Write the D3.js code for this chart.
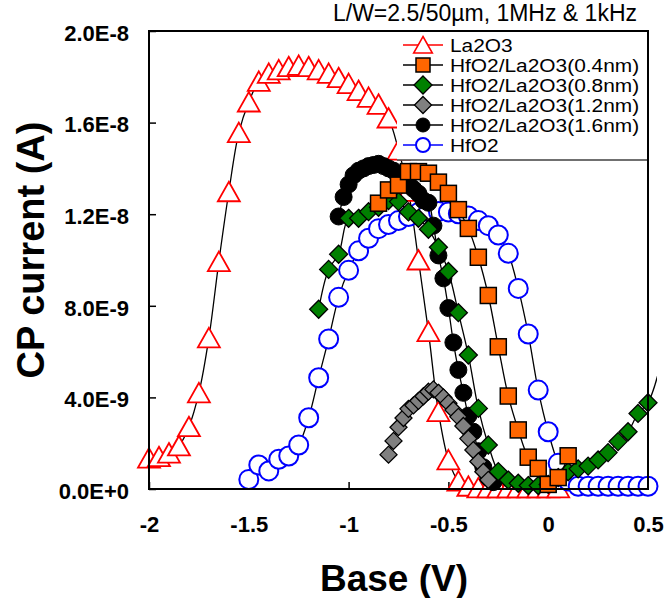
<!DOCTYPE html>
<html>
<head>
<meta charset="utf-8">
<script src="https://cdn.jsdelivr.net/npm/d3@7"></script>
<style>
  body { margin: 0; background: #fff; }
  svg { font-family: Arial, "Liberation Sans", sans-serif; }
</style>
</head>
<body>
<svg id="chart" width="665" height="598"></svg>
<script>
// ---- DATA (current in nA) ----
const la2o3V = [-2, -1.95, -1.9, -1.85, -1.8, -1.75, -1.7, -1.65, -1.6, -1.55, -1.5, -1.45, -1.4, -1.35,
  -1.3, -1.25, -1.2, -1.15, -1.1, -1.05, -1, -0.95, -0.9, -0.85, -0.8, -0.75, -0.7, -0.65, -0.6, -0.55,
  -0.5, -0.45, -0.4, -0.35, -0.3, -0.25, -0.2, -0.15, -0.1, -0.05, 0, 0.05];
const la2o3I = [1.35, 1.41, 1.57, 1.88, 2.72, 4.2, 6.6, 9.93, 12.98, 15.56, 16.9, 17.8, 18.15, 18.3,
  18.44, 18.5, 18.44, 18.3, 18.15, 17.96, 17.7, 17.4, 17.1, 16.8, 16.2, 14.8, 13.0, 10.0, 6.87, 3.38,
  1.27, 0.35, 0.12, 0.05, 0.05, 0.05, 0.05, 0.05, 0.05, 0.05, 0.05, 0.05];

const nm04V = [-0.85, -0.8, -0.75, -0.7, -0.65, -0.6, -0.55, -0.5, -0.45, -0.4, -0.35, -0.3, -0.25, -0.2,
  -0.15, -0.1, -0.05, 0, 0.05, 0.1];
const nm04I = [12.48, 13.06, 13.27, 13.86, 13.86, 13.79, 13.4, 12.91, 12.2, 11.38, 10.12, 8.45, 6.21, 4.06,
  2.58, 1.39, 0.9, 0.2, 0.5, 1.45];

const nm08V = [-1.15, -1.1, -1.05, -1, -0.95, -0.9, -0.85, -0.8, -0.75, -0.7, -0.65, -0.6, -0.55, -0.5,
  -0.45, -0.4, -0.35, -0.3, -0.25, -0.2, -0.15, -0.1, -0.05, 0, 0.05, 0.1, 0.15, 0.2, 0.25, 0.3, 0.35,
  0.4, 0.45, 0.5, 0.55];
const nm08I = [7.85, 9.59, 10.25, 11.82, 11.82, 12.11, 12.3, 12.6, 12.55, 12.1, 11.82, 11.34, 10.56, 9.5,
  7.7, 5.85, 3.52, 1.92, 0.76, 0.39, 0.25, 0.15, 0.15, 0.2, 0.5, 0.75, 0.88, 1.0, 1.27, 1.59, 2.07,
  2.5, 3.3, 3.77, 5.0];

const nm12V = [-0.8, -0.775, -0.75, -0.725, -0.7, -0.675, -0.65, -0.625, -0.6, -0.575, -0.55, -0.525,
  -0.5, -0.475, -0.45, -0.425, -0.4, -0.375, -0.35, -0.325, -0.3];
const nm12I = [1.5, 2.1, 2.7, 3.1, 3.5, 3.65, 3.85, 4.05, 4.25, 4.35, 4.2, 4.0,
  3.75, 3.45, 3.15, 2.75, 2.2, 1.7, 1.2, 0.75, 0.4];

const nm16V = [-1.05, -1.025, -1, -0.975, -0.95, -0.925, -0.9, -0.875, -0.85, -0.825, -0.8, -0.775,
  -0.75, -0.725, -0.7, -0.675, -0.65, -0.625, -0.6, -0.575, -0.55, -0.525, -0.5, -0.475, -0.45,
  -0.425, -0.4, -0.375, -0.35, -0.325, -0.3, -0.275];
const nm16I = [11.9, 12.75, 13.3, 13.7, 13.9, 14.0, 14.1, 14.15, 14.2, 14.1, 14.0, 13.9,
  13.7, 13.5, 13.3, 13.1, 12.9, 12.6, 12.5, 11.5, 10.2, 9.2, 7.9, 6.4, 5.2,
  4.2, 3.2, 2.5, 1.65, 0.95, 0.5, 0.3];

const hfo2V = [-1.5, -1.45, -1.4, -1.35, -1.3, -1.25, -1.2, -1.15, -1.1, -1.05, -1, -0.95, -0.9, -0.85,
  -0.8, -0.75, -0.7, -0.65, -0.6, -0.55, -0.5, -0.45, -0.4, -0.35, -0.3, -0.25, -0.2, -0.15, -0.1,
  -0.05, 0, 0.05, 0.1, 0.15, 0.2, 0.25, 0.3, 0.35, 0.4, 0.45, 0.5];
const hfo2I = [0.42, 1.05, 0.79, 1.3, 1.44, 1.92, 3.11, 4.86, 6.55, 8.37, 9.55, 10.4, 10.95, 11.37,
  11.55, 11.72, 11.9, 12.07, 12.12, 12.12, 12.1, 12.02, 11.92, 11.72, 11.5, 11.09, 10.29, 8.76, 6.77,
  4.32, 2.5, 1.12, 0.35, 0.12, 0.12, 0.12, 0.12, 0.12, 0.12, 0.12, 0.12];

const seriesNames = ["La2O3", "HfO2/La2O3(0.4nm)", "HfO2/La2O3(0.8nm)", "HfO2/La2O3(1.2nm)",
  "HfO2/La2O3(1.6nm)", "HfO2"];

const xTicks = [-2, -1.5, -1, -0.5, 0, 0.5];
const xTickLabels = ["-2", "-1.5", "-1", "-0.5", "0", "0.5"];
const yTicks = [0, 4e-9, 8e-9, 1.2e-8, 1.6e-8, 2e-8];
const yTickLabels = ["0.0E+0", "4.0E-9", "8.0E-9", "1.2E-8", "1.6E-8", "2.0E-8"];

const titleText = "L/W=2.5/50\u00b5m, 1MHz & 1kHz";
const xTitle = "Base (V)";
const yTitle = "CP current (A)";

// ---- LAYOUT ----
const svg = d3.select("#chart");
const plot = { left: 149, right: 648, top: 31, bottom: 489 };

const x = d3.scaleLinear().domain([-2, 0.5]).range([plot.left, plot.right]);
const y = d3.scaleLinear().domain([0, 2e-8]).range([plot.bottom, plot.top]);

const toPts = (vs, is) => vs.map((v, i) => ({ v, i: is[i] * 1e-9 }));

// marker shapes
const shapes = {
  triangle: (g) => g.append("path").attr("d", "M0,-10 L11,9.5 L-11,9.5 Z"),
  square: (g) => g.append("rect").attr("x", -8).attr("y", -8).attr("width", 16).attr("height", 16),
  diamond: (g) => g.append("path").attr("d", "M0,-9 L9,0 L0,9 L-9,0 Z"),
  diamondSm: (g) => g.append("path").attr("d", "M0,-8.5 L8.5,0 L0,8.5 L-8.5,0 Z"),
  circleBig: (g) => g.append("circle").attr("r", 9.5),
  circleSm: (g) => g.append("circle").attr("r", 8.5)
};

const series = [
  { name: seriesNames[0], pts: toPts(la2o3V, la2o3I), shape: "triangle", fill: "#fff", stroke: "#ff0000", sw: 1.8, legendLine: "#ff0000" },
  { name: seriesNames[5], pts: toPts(hfo2V, hfo2I), shape: "circleBig", fill: "#fff", stroke: "#0000ff", sw: 2, legendLine: "#0000ff" },
  { name: seriesNames[4], pts: toPts(nm16V, nm16I), shape: "circleSm", fill: "#000", stroke: "#000", sw: 1, legendLine: "#000" },
  { name: seriesNames[3], pts: toPts(nm12V, nm12I), shape: "diamondSm", fill: "#808080", stroke: "#000", sw: 1.3, legendLine: "#000" },
  { name: seriesNames[2], pts: toPts(nm08V, nm08I), shape: "diamond", fill: "#008000", stroke: "#000", sw: 1.3, legendLine: "#000" },
  { name: seriesNames[1], pts: toPts(nm04V, nm04I), shape: "square", fill: "#ff6600", stroke: "#000", sw: 1.5, legendLine: "#000" }
];

// lines may run a little past the right frame (as in the original), markers stay inside
svg.append("defs").append("clipPath").attr("id", "lineclip")
  .append("rect").attr("x", 0).attr("y", 0).attr("width", 657).attr("height", 598);

const line = d3.line()
  .x(d => x(d.v))
  .y(d => y(d.i))
  .curve(d3.curveCatmullRom.alpha(0.5));

// ---- AXES ----
const xAxis = d3.axisBottom(x)
  .tickValues(xTicks)
  .tickFormat((d, i) => xTickLabels[i])
  .tickSizeInner(-7).tickSizeOuter(0).tickPadding(27);

const yAxis = d3.axisLeft(y)
  .tickValues(yTicks)
  .tickFormat((d, i) => yTickLabels[i])
  .tickSizeInner(-7).tickSizeOuter(0).tickPadding(20);

const gx = svg.append("g").attr("transform", `translate(0,${plot.bottom})`).call(xAxis);
const gy = svg.append("g").attr("transform", `translate(${plot.left},0)`).call(yAxis);

[gx, gy].forEach(g => {
  g.select(".domain").remove();
  g.selectAll(".tick line").attr("stroke", "#000").attr("stroke-width", 1.5);
  g.selectAll(".tick text")
    .attr("fill", "#000")
    .attr("font-size", 22)
    .attr("font-weight", "bold")
    .attr("font-family", "Arial, 'Liberation Sans', sans-serif");
});
gy.selectAll(".tick text").attr("dy", "0.42em");

// ---- SERIES ----
const dataG = svg.append("g");
series.forEach(s => {
  dataG.append("path")
    .datum(s.pts)
    .attr("clip-path", "url(#lineclip)")
    .attr("d", line)
    .attr("fill", "none")
    .attr("stroke", "#000")
    .attr("stroke-width", 1.3);

  const inside = s.pts.filter(d => d.v <= 0.5 + 1e-9);
  dataG.append("g").selectAll("g")
    .data(inside)
    .join("g")
    .attr("transform", d => `translate(${x(d.v)},${y(d.i)})`)
    .each(function () {
      shapes[s.shape](d3.select(this))
        .attr("fill", s.fill)
        .attr("stroke", s.stroke)
        .attr("stroke-width", s.sw);
    });
});

// ---- LEGEND ----
const legend = svg.append("g");
legend.append("rect")
  .attr("x", 397).attr("y", plot.top).attr("width", plot.right - 397).attr("height", 160 - plot.top)
  .attr("fill", "#fff");
legend.append("line")
  .attr("x1", 397).attr("x2", plot.right).attr("y1", 160).attr("y2", 160)
  .attr("stroke", "#404040").attr("stroke-width", 1.5);

const legendOrder = [0, 5, 4, 3, 2, 1]; // index into series, by legend row
legendOrder.forEach((si, row) => {
  const s = series[si];
  const cy = 45 + row * 20;
  legend.append("line")
    .attr("x1", 403).attr("x2", 443).attr("y1", cy).attr("y2", cy)
    .attr("stroke", s.legendLine).attr("stroke-width", 1.3);
  const mg = legend.append("g").attr("transform", `translate(423,${cy})`);
  const m = shapes[s.shape](mg).attr("fill", s.fill).attr("stroke", s.stroke).attr("stroke-width", s.sw);
  if (s.shape === "triangle") mg.attr("transform", `translate(423,${cy}) scale(0.85)`);
  if (s.shape === "circleBig" || s.shape === "circleSm") m.attr("r", 7);
  if (s.shape === "square") m.attr("x", -7).attr("y", -7).attr("width", 14).attr("height", 14);
  // slightly widened 18px text so the rows fit in 20px but keep the original width
  legend.append("text")
    .attr("transform", `translate(450,${cy + 6.5}) scale(1.16,1.05)`)
    .attr("font-size", 18)
    .attr("fill", "#000")
    .text(s.name);
});

// ---- FRAME ----
svg.append("rect")
  .attr("x", plot.left).attr("y", plot.top)
  .attr("width", plot.right - plot.left).attr("height", plot.bottom - plot.top)
  .attr("fill", "none").attr("stroke", "#000").attr("stroke-width", 2);

// ---- TITLES ----
svg.append("text")
  .attr("x", 637).attr("y", 21)
  .attr("text-anchor", "end")
  .attr("font-size", 23)
  .attr("fill", "#000")
  .text(titleText);

svg.append("text")
  .attr("x", 394).attr("y", 591)
  .attr("text-anchor", "middle")
  .attr("font-size", 37)
  .attr("font-weight", "bold")
  .attr("fill", "#000")
  .text(xTitle);

svg.append("text")
  .attr("transform", "translate(44,250) rotate(-90)")
  .attr("text-anchor", "middle")
  .attr("font-size", 38)
  .attr("font-weight", "bold")
  .attr("fill", "#000")
  .text(yTitle);
</script>
</body>
</html>
